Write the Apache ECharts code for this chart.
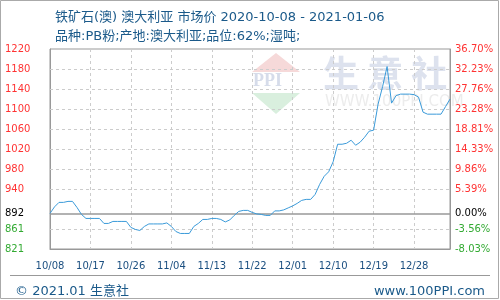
<!DOCTYPE html>
<html><head><meta charset="utf-8">
<script src="https://cdn.jsdelivr.net/npm/echarts@6/dist/echarts.min.js"></script>
<style>html,body{margin:0;padding:0;background:#fff}#c{width:500px;height:300px}</style>
</head><body><div id="c"></div>
<script>
var dates = ['10/08','10/09','10/10','10/11','10/12','10/13','10/14','10/15','10/16','10/17','10/18','10/19','10/20','10/21','10/22','10/23','10/24','10/25','10/26','10/27','10/28','10/29','10/30','10/31',
'11/01','11/02','11/03','11/04','11/05','11/06','11/07','11/08','11/09','11/10','11/11','11/12','11/13','11/14','11/15','11/16','11/17','11/18','11/19','11/20','11/21','11/22','11/23','11/24','11/25','11/26','11/27','11/28','11/29','11/30',
'12/01','12/02','12/03','12/04','12/05','12/06','12/07','12/08','12/09','12/10','12/11','12/12','12/13','12/14','12/15','12/16','12/17','12/18','12/19','12/20','12/21','12/22','12/23','12/24','12/25','12/26','12/27','12/28','12/29','12/30','12/31',
'01/02','01/03','01/04','01/05','01/06'];
var prices = [892,905,914,914,916,916,904,890,882,882,882,882,872,872,876,876,876,876,864,860,858,866,871,871,871,871,873,866,856,852,
852,852,866,872,880,880,882,882,880,875,879,888,896,898,898,894,891,890,888,888,897,897,899,903,907,912,918,920,920,930,
950,966,975,995,1030,1030,1032,1038,1028,1034,1044,1056,1058,1110,1145,1185,1112,1127,1130,1130,1130,1129,1124,1094,1090,1090,1090,1090,1105,1120];
var tickValues = [821,861,892,940,980,1020,1060,1100,1140,1180,1220];
var pctLabels = ['-8.03%','-3.56%','0.00%','5.39%','9.86%','14.33%','18.81%','23.28%','27.76%','32.23%','36.70%'];
var baseValue = 892;
var titleText = '铁矿石(澳) 澳大利亚 市场价 2020-10-08 - 2021-01-06';
var subText = '品种:PB粉;产地:澳大利亚;品位:62%;湿吨;';

var FONT = '"DejaVu Sans","Noto Sans CJK SC",sans-serif';
function tickColor(v){ v = Math.round(v); return v > baseValue ? '#ff3333' : (v < baseValue ? '#33aa33' : '#000000'); }
var gridLines = tickValues.filter(function(v){return v!==821 && v!==1220;}).map(function(v){
  return {yAxis: v, lineStyle: v===baseValue ? {color:'#999', type:'solid', width:1.5} : {color:'#ccc', type:[3,3], width:1}};
});
var chart = echarts.init(document.getElementById('c'), null, {renderer:'canvas'});
chart.setOption({
  animation:false,
  title:[
    {text:titleText, left:50, top:6, textStyle:{fontSize:13, fontWeight:'normal', color:'#1b5a8a', fontFamily:FONT}},
    {text:subText, left:50, top:25, textStyle:{fontSize:13, fontWeight:'normal', color:'#1b5a8a', fontFamily:FONT}},
    {text:'© 2021.01 生意社', left:10, top:280, textStyle:{fontSize:13, fontWeight:'normal', color:'#1b5a8a', fontFamily:FONT}},
    {text:'www.100PPI.com', right:10, top:280, textStyle:{fontSize:13, fontWeight:'normal', color:'#1b5a8a', fontFamily:FONT}}
  ],
  graphic:[
    {type:'rect', silent:true, z:-10, shape:{x:0.5,y:0.5,width:498,height:298}, style:{fill:null, stroke:'#aaa', lineWidth:1}},
    {type:'line', silent:true, shape:{x1:10,y1:275.5,x2:490,y2:275.5}, style:{stroke:'#999', lineWidth:1}},
    {type:'polygon', silent:true, z:-5, shape:{points:[[276,53],[252,72],[300,72]]}, style:{fill:'#f6d9d9'}},
    {type:'text', silent:true, z:-5, left:253, top:72, style:{text:'PPI', fontSize:18, fontWeight:'bold', fill:'#d6dcea', fontFamily:'Liberation Serif'}},
    {type:'polygon', silent:true, z:-5, shape:{points:[[252,93],[300,93],[276,114]]}, style:{fill:'#d9efde'}},
    {type:'text', silent:true, z:-5, left:323, top:55, style:{text:'生 意 社', fontSize:36, fontWeight:'bold', fill:'#dde2ee', fontFamily:'Noto Sans CJK SC'}},
    {type:'text', silent:true, z:-5, left:325, top:95, style:{text:'WWW.100PPI.COM', fontSize:15, fill:'#ececec', fontFamily:FONT}}
  ],
  grid:{left:50, right:50, top:49, bottom:51, show:true, borderColor:'#999', borderWidth:1, backgroundColor:'transparent'},
  xAxis:{type:'category', data:dates, boundaryGap:false,
    axisLine:{show:true, lineStyle:{color:'#999', width:1}}, axisTick:{show:false},
    axisLabel:{interval:8, color:'#1b4f80', fontSize:10, margin:12, fontFamily:FONT},
    splitLine:{show:true, interval:8, lineStyle:{color:'#ccc', type:[3,3]}}},
  yAxis:[
    {type:'value', min:821, max:1220, position:'left', splitLine:{show:false}, axisTick:{show:false},
     axisLine:{show:true, lineStyle:{color:'#999', width:1}},
     axisLabel:{customValues:tickValues, align:'left', margin:45, fontSize:10, fontFamily:FONT,
       formatter:function(v){return String(Math.round(v));}, color:function(v){return tickColor(v);}}},
    {type:'value', min:821, max:1220, position:'right', splitLine:{show:false}, axisTick:{show:false},
     axisLine:{show:true, lineStyle:{color:'#999', width:1}},
     axisLabel:{customValues:tickValues, align:'left', margin:5, fontSize:10, fontFamily:FONT,
       formatter:function(v){var i=tickValues.indexOf(Math.round(v)); return i>=0?pctLabels[i]:'';},
       color:function(v){return tickColor(v);}}}
  ],
  series:[{type:'line', data:prices, symbol:'none', lineStyle:{color:'#3a9ad9', width:1}, z:5,
    markLine:{silent:true, symbol:'none', label:{show:false}, data:gridLines, z:1}}]
});
</script></body></html>
